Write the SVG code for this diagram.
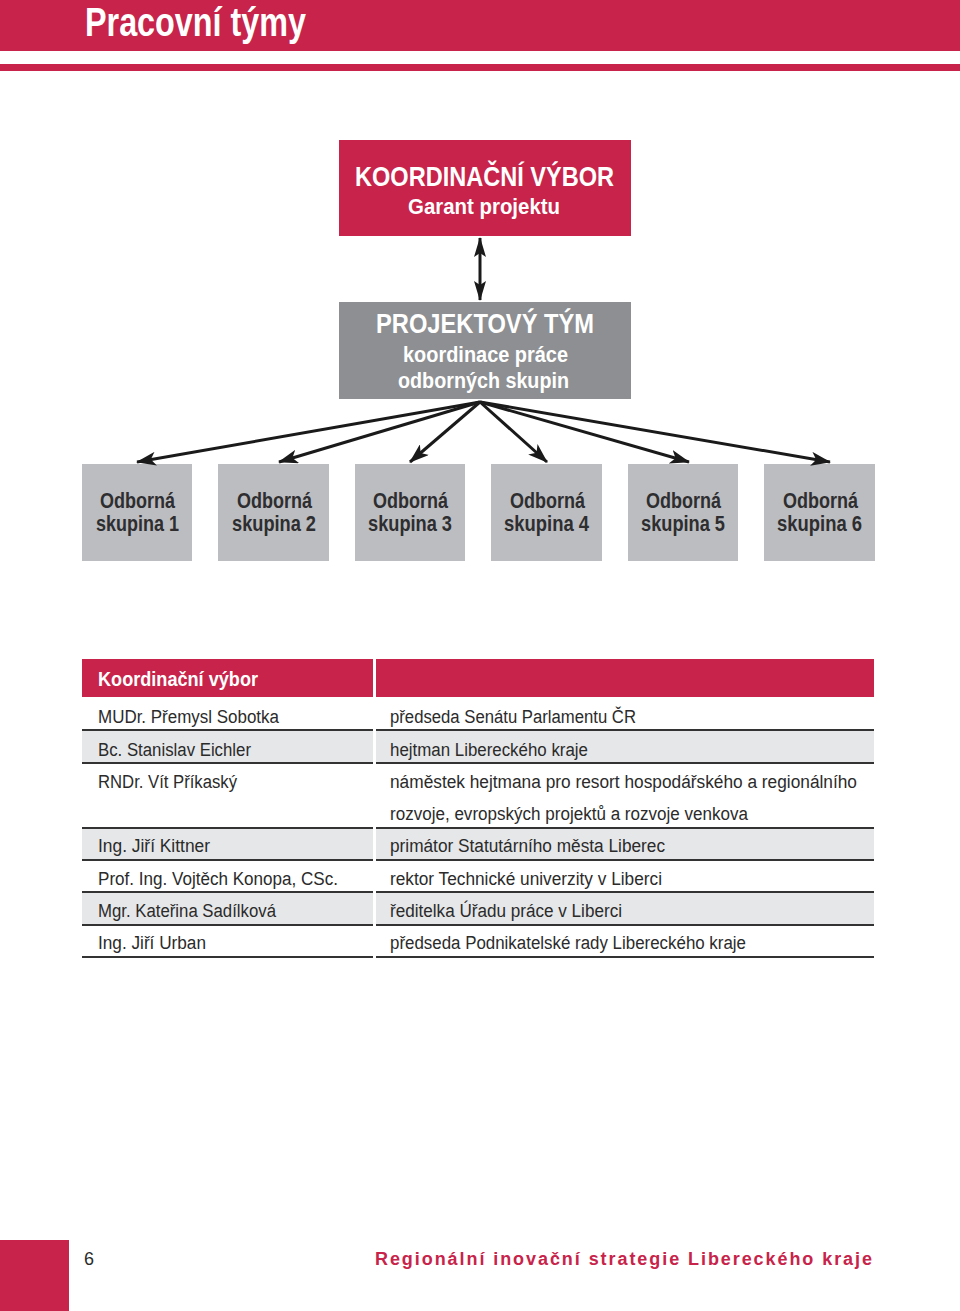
<svg xmlns="http://www.w3.org/2000/svg" width="960" height="1311" viewBox="0 0 960 1311">
<style>
.red{fill:#c8234a}
.bold{font-family:"Liberation Sans",Arial,sans-serif;font-weight:bold}
.reg{font-family:"Liberation Sans",Arial,sans-serif}
.wt{fill:#ffffff}
.grp{fill:#bcbdc0}
.gtx{fill:#2e2e30;font-size:22px}
.cell{font-size:18px;fill:#2b2b2b}
.rowbg{fill:#e6e7e8}
.rule{stroke:#333;stroke-width:2}
.conn{stroke:#1a1a1a;stroke-width:3;fill:none}
</style>
<defs>
<marker id="ah" viewBox="0 0 20 14" refX="19" refY="7" markerWidth="20" markerHeight="14" markerUnits="userSpaceOnUse" orient="auto-start-reverse">
<path d="M0,0 L20,7 L0,14 L5,7 Z" fill="#1a1a1a"/>
</marker>
<marker id="ah2" viewBox="0 0 20 12" refX="19" refY="6" markerWidth="20" markerHeight="12" markerUnits="userSpaceOnUse" orient="auto-start-reverse">
<path d="M0,0 L20,6 L0,12 L4,6 Z" fill="#1a1a1a"/>
</marker>
</defs>

<g id="header">
<rect x="0" y="0" width="960" height="51" class="red"/>
<rect x="0" y="64" width="960" height="7" class="red"/>
<text x="85" y="36" class="bold wt" font-size="40" textLength="221" lengthAdjust="spacingAndGlyphs">Pracovní týmy</text>
</g>

<g id="koordinacni-vybor">
<rect x="339" y="140" width="292" height="96" class="red"/>
<text x="355" y="186" class="bold wt" font-size="28" textLength="259" lengthAdjust="spacingAndGlyphs">KOORDINAČNÍ VÝBOR</text>
<text x="408" y="214" class="bold wt" font-size="22" textLength="152" lengthAdjust="spacingAndGlyphs">Garant projektu</text>
</g>

<g id="projektovy-tym">
<rect x="339" y="302" width="292" height="97" fill="#8e8f92"/>
<text x="376" y="333" class="bold wt" font-size="27" textLength="218" lengthAdjust="spacingAndGlyphs">PROJEKTOVÝ TÝM</text>
<text x="403" y="362" class="bold wt" font-size="22" textLength="165" lengthAdjust="spacingAndGlyphs">koordinace práce</text>
<text x="398" y="388" class="bold wt" font-size="22" textLength="171" lengthAdjust="spacingAndGlyphs">odborných skupin</text>
</g>

<g id="skupina-1"><rect x="82" y="464" width="110" height="97" class="grp"/>
<text x="100" y="508" class="bold gtx" textLength="75" lengthAdjust="spacingAndGlyphs">Odborná</text>
<text x="96" y="531" class="bold gtx" textLength="83" lengthAdjust="spacingAndGlyphs">skupina 1</text></g>
<g id="skupina-2"><rect x="218" y="464" width="111" height="97" class="grp"/>
<text x="237" y="508" class="bold gtx" textLength="75" lengthAdjust="spacingAndGlyphs">Odborná</text>
<text x="232" y="531" class="bold gtx" textLength="84" lengthAdjust="spacingAndGlyphs">skupina 2</text></g>
<g id="skupina-3"><rect x="355" y="464" width="110" height="97" class="grp"/>
<text x="373" y="508" class="bold gtx" textLength="75" lengthAdjust="spacingAndGlyphs">Odborná</text>
<text x="368" y="531" class="bold gtx" textLength="84" lengthAdjust="spacingAndGlyphs">skupina 3</text></g>
<g id="skupina-4"><rect x="491" y="464" width="111" height="97" class="grp"/>
<text x="510" y="508" class="bold gtx" textLength="75" lengthAdjust="spacingAndGlyphs">Odborná</text>
<text x="504" y="531" class="bold gtx" textLength="85" lengthAdjust="spacingAndGlyphs">skupina 4</text></g>
<g id="skupina-5"><rect x="628" y="464" width="110" height="97" class="grp"/>
<text x="646" y="508" class="bold gtx" textLength="75" lengthAdjust="spacingAndGlyphs">Odborná</text>
<text x="641" y="531" class="bold gtx" textLength="84" lengthAdjust="spacingAndGlyphs">skupina 5</text></g>
<g id="skupina-6"><rect x="764" y="464" width="111" height="97" class="grp"/>
<text x="783" y="508" class="bold gtx" textLength="75" lengthAdjust="spacingAndGlyphs">Odborná</text>
<text x="777" y="531" class="bold gtx" textLength="85" lengthAdjust="spacingAndGlyphs">skupina 6</text></g>

<g id="connectors">
<line x1="480" y1="238" x2="480" y2="300" class="conn" marker-start="url(#ah2)" marker-end="url(#ah2)"/>
<line x1="480" y1="402" x2="137" y2="462" class="conn" marker-end="url(#ah)"/>
<line x1="480" y1="402" x2="279" y2="462" class="conn" marker-end="url(#ah)"/>
<line x1="480" y1="402" x2="410" y2="462" class="conn" marker-end="url(#ah)"/>
<line x1="480" y1="402" x2="547" y2="462" class="conn" marker-end="url(#ah)"/>
<line x1="480" y1="402" x2="689" y2="462" class="conn" marker-end="url(#ah)"/>
<line x1="480" y1="402" x2="830" y2="462" class="conn" marker-end="url(#ah)"/>
</g>

<g id="table">
<rect x="82" y="659" width="291" height="38" class="red"/>
<rect x="376" y="659" width="498" height="38" class="red"/>
<text x="98" y="686" class="bold wt" font-size="21" textLength="160" lengthAdjust="spacingAndGlyphs">Koordinační výbor</text>
<rect x="82" y="731" width="291" height="32" class="rowbg"/>
<rect x="376" y="731" width="498" height="32" class="rowbg"/>
<rect x="82" y="829" width="291" height="31" class="rowbg"/>
<rect x="376" y="829" width="498" height="31" class="rowbg"/>
<rect x="82" y="893" width="291" height="32" class="rowbg"/>
<rect x="376" y="893" width="498" height="32" class="rowbg"/>
<g class="rule">
<line x1="82" y1="730" x2="373" y2="730"/><line x1="376" y1="730" x2="874" y2="730"/>
<line x1="82" y1="763" x2="373" y2="763"/><line x1="376" y1="763" x2="874" y2="763"/>
<line x1="82" y1="828" x2="373" y2="828"/><line x1="376" y1="828" x2="874" y2="828"/>
<line x1="82" y1="860" x2="373" y2="860"/><line x1="376" y1="860" x2="874" y2="860"/>
<line x1="82" y1="892" x2="373" y2="892"/><line x1="376" y1="892" x2="874" y2="892"/>
<line x1="82" y1="925" x2="373" y2="925"/><line x1="376" y1="925" x2="874" y2="925"/>
<line x1="82" y1="957" x2="373" y2="957"/><line x1="376" y1="957" x2="874" y2="957"/>
</g>
<g class="reg cell">
<text x="98" y="723" textLength="181" lengthAdjust="spacingAndGlyphs">MUDr. Přemysl Sobotka</text>
<text x="98" y="756" textLength="153" lengthAdjust="spacingAndGlyphs">Bc. Stanislav Eichler</text>
<text x="98" y="788" textLength="139" lengthAdjust="spacingAndGlyphs">RNDr. Vít Příkaský</text>
<text x="98" y="852" textLength="112" lengthAdjust="spacingAndGlyphs">Ing. Jiří Kittner</text>
<text x="98" y="885" textLength="240" lengthAdjust="spacingAndGlyphs">Prof. Ing. Vojtěch Konopa, CSc.</text>
<text x="98" y="917" textLength="178" lengthAdjust="spacingAndGlyphs">Mgr. Kateřina Sadílková</text>
<text x="98" y="949" textLength="108" lengthAdjust="spacingAndGlyphs">Ing. Jiří Urban</text>
<text x="390" y="723" textLength="246" lengthAdjust="spacingAndGlyphs">předseda Senátu Parlamentu ČR</text>
<text x="390" y="756" textLength="198" lengthAdjust="spacingAndGlyphs">hejtman Libereckého kraje</text>
<text x="390" y="788" textLength="467" lengthAdjust="spacingAndGlyphs">náměstek hejtmana pro resort hospodářského a regionálního</text>
<text x="390" y="820" textLength="358" lengthAdjust="spacingAndGlyphs">rozvoje, evropských projektů a rozvoje venkova</text>
<text x="390" y="852" textLength="275" lengthAdjust="spacingAndGlyphs">primátor Statutárního města Liberec</text>
<text x="390" y="885" textLength="272" lengthAdjust="spacingAndGlyphs">rektor Technické univerzity v Liberci</text>
<text x="390" y="917" textLength="232" lengthAdjust="spacingAndGlyphs">ředitelka Úřadu práce v Liberci</text>
<text x="390" y="949" textLength="356" lengthAdjust="spacingAndGlyphs">předseda Podnikatelské rady Libereckého kraje</text>
</g>
</g>

<g id="footer">
<rect x="0" y="1240" width="69" height="71" class="red"/>
<text x="84" y="1265" class="reg" font-size="18" fill="#2b2b2b" textLength="10" lengthAdjust="spacingAndGlyphs">6</text>
<text x="375" y="1265" class="bold red" font-size="18" textLength="497" lengthAdjust="spacing">Regionální inovační strategie Libereckého kraje</text>
</g>
</svg>
